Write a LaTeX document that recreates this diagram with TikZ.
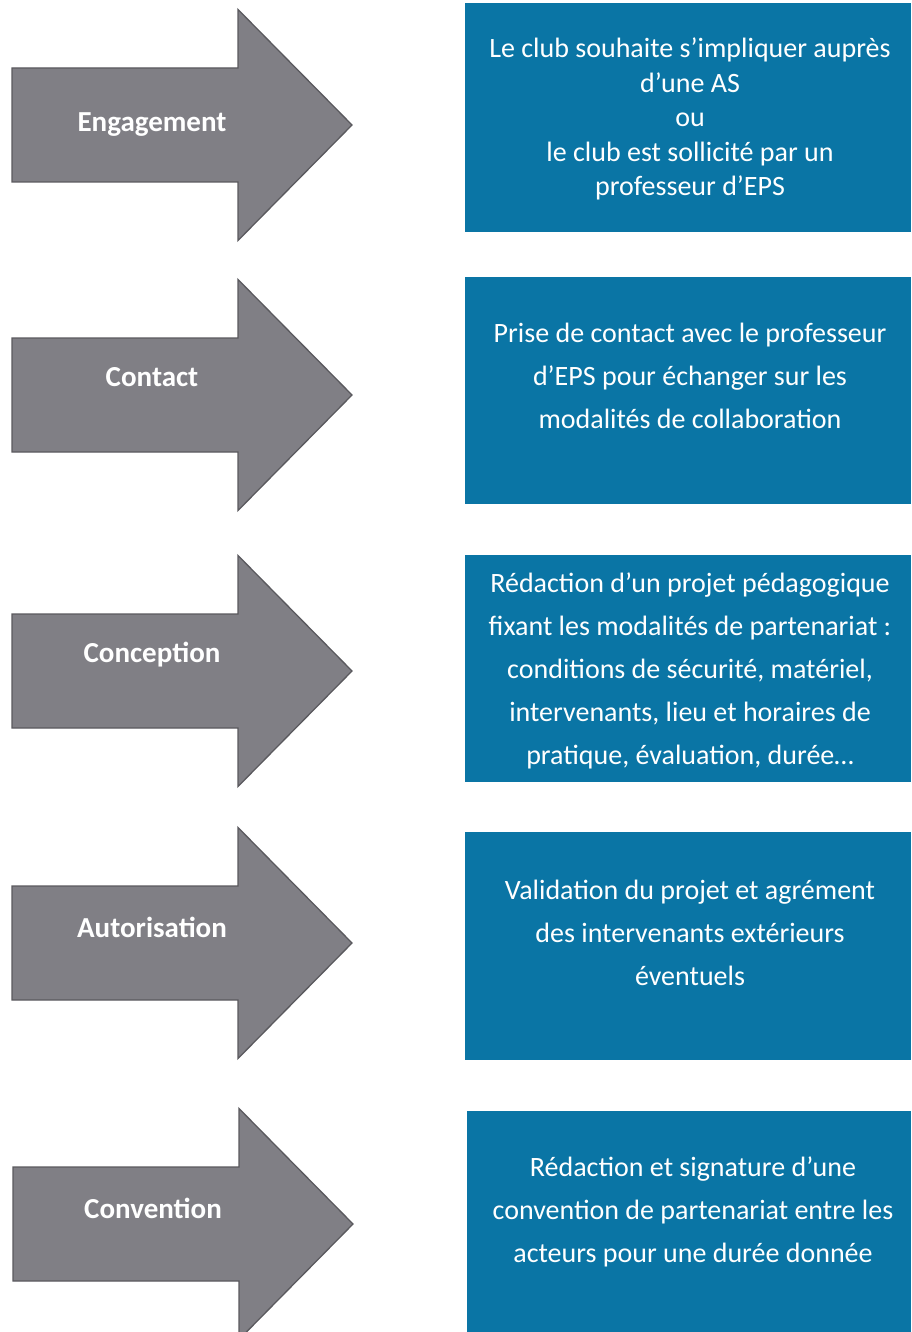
\documentclass[tikz,border=0pt]{standalone}
\usepackage{fontspec}
\setmainfont{Carlito}
\usetikzlibrary{positioning}
\definecolor{stepgrey}{HTML}{807F85}
\definecolor{stepedge}{HTML}{5A595E}
\definecolor{stepblue}{HTML}{0A75A5}
\tikzset{
  arrowshape/.style={fill=stepgrey, draw=stepedge, line width=1.3pt, line join=miter},
  arrowlabel/.style={text=white, inner sep=0pt, font=\fontsize{29}{34}\selectfont\bfseries},
  stepbox/.style={fill=stepblue, draw=none, inner sep=0pt, minimum width=446pt},
  boxtext/.style={text=white, align=center, inner sep=0pt, font=\fontsize{28}{43}\selectfont},
  tighttext/.style={boxtext, font=\fontsize{28}{34.5}\selectfont}}
% one block arrow: left end x, centre line y
\newcommand{\blockarrow}[2]{%
  \draw[arrowshape] (#1,#2-57) -- (#1+226,#2-57) -- (#1+226,#2-115.5) -- (#1+340,#2)
    -- (#1+226,#2+115.5) -- (#1+226,#2+57) -- (#1,#2+57) -- cycle;}

\begin{document}
\begin{tikzpicture}[x=1pt, y=-1pt]
\useasboundingbox (0,0) rectangle (911,1332);
\clip (0,0) rectangle (911,1332);

% arrows on the left
\blockarrow{12}{125}
\blockarrow{12}{395}
\blockarrow{12}{671}
\blockarrow{12}{943}
\blockarrow{13}{1224}
\node[arrowlabel] (engagement) at (152,125) {Engagement};
\node[arrowlabel] (contact) at (152,377) {Contact};
\node[arrowlabel] (conception) at (152,655) {Conception};
\node[arrowlabel] (autorisation) at (152,927) {Autorisation};
\node[arrowlabel] (convention) at (153,1208) {Convention};

% boxes on the right
\node[stepbox, minimum height=229pt] (b1) at (688,117.5) {};
\node[stepbox, minimum height=227pt] (b2) at (688,390.5) {};
\node[stepbox, minimum height=227pt] (b3) at (688,668.5) {};
\node[stepbox, minimum height=228pt] (b4) at (688,946) {};
\node[stepbox, minimum width=444pt, minimum height=222pt] (b5) at (689,1222) {};

\node[tighttext] (t1) at (690,119) {Le club souhaite s’impliquer auprès\\d’une AS\\ou\\le club est sollicité par un\\professeur d’EPS};
\node[boxtext] (t2) at (690,375.5) {Prise de contact avec le professeur\\d’EPS pour échanger sur les\\modalités de collaboration};
\node[boxtext] (t3) at (690,671) {Rédaction d’un projet pédagogique\\fixant les modalités de partenariat :\\conditions de sécurité, matériel,\\intervenants, lieu et horaires de\\pratique, évaluation, durée…};
\node[boxtext] (t4) at (690,932.5) {Validation du projet et agrément\\des intervenants extérieurs\\éventuels};
\node[boxtext] (t5) at (693,1212) {Rédaction et signature d’une\\convention  de partenariat entre les\\acteurs pour une durée donnée};
\end{tikzpicture}
\end{document}
